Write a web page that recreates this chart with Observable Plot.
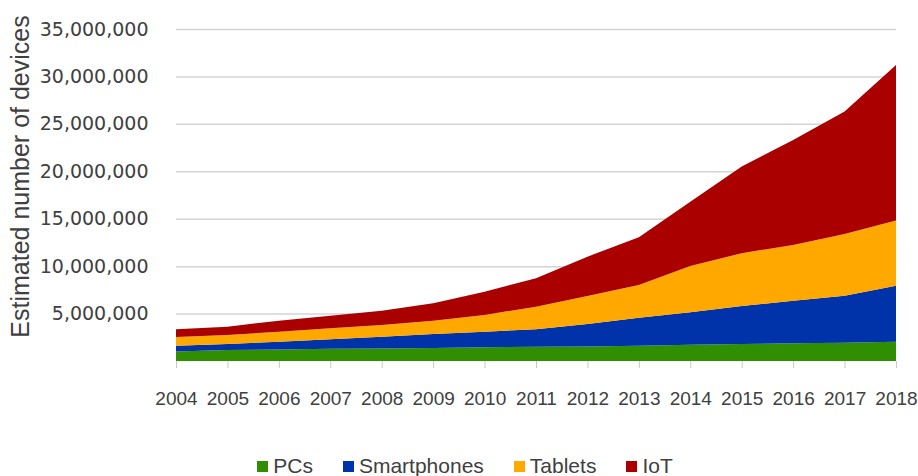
<!DOCTYPE html>
<html><head><meta charset="utf-8">
<script src="https://cdn.jsdelivr.net/npm/d3@7"></script>
<script src="https://cdn.jsdelivr.net/npm/@observablehq/plot@0.6"></script>
<style>
body{margin:0;background:#fff;font-family:"Liberation Sans",Arial,sans-serif;}
#chart{position:relative;width:918px;height:476px;overflow:hidden;}
#legend{position:absolute;left:6px;width:918px;top:452px;display:flex;justify-content:center;gap:30px;font-size:21px;color:#404040;line-height:28px;}
.item{display:flex;align-items:center;}
.sw{width:11px;height:11px;margin-right:5px;}
</style></head><body><div id="chart"></div>
<script>
const years = [2004,2005,2006,2007,2008,2009,2010,2011,2012,2013,2014,2015,2016,2017,2018];
const pcs         = [1000000,1150000,1220000,1280000,1330000,1380000,1450000,1500000,1530000,1620000,1720000,1800000,1870000,1930000,2040000];
const smartphones = [600000,640000,820000,1010000,1230000,1470000,1640000,1840000,2370000,2950000,3410000,4000000,4490000,4960000,5900000];
const tablets     = [920000,950000,1050000,1160000,1240000,1400000,1760000,2390000,2960000,3450000,4890000,5560000,5880000,6510000,6860000];
const iot         = [840000,880000,1160000,1330000,1510000,1840000,2460000,2990000,4140000,5030000,6780000,9140000,11060000,12900000,16400000];
const seriesNames = ["PCs","Smartphones","Tablets","IoT"];
const seriesColors = ["#2f8f00","#0033aa","#ffa800","#aa0000"];
const yTicks = [5000000,10000000,15000000,20000000,25000000,30000000,35000000];
const yTitle = "Estimated number of devices";

const seriesValues = [pcs, smartphones, tablets, iot];
const table = [];
seriesNames.forEach((name, i) => {
  years.forEach((yr, j) => table.push({year: yr, series: name, value: seriesValues[i][j]}));
});

const plot = Plot.plot({
  width: 918, height: 430,
  marginLeft: 176, marginRight: 22, marginTop: 29, marginBottom: 69,
  style: {fontFamily: "Liberation Sans, Arial, sans-serif", color: "#404040", background: "#fff"},
  x: {domain: [2004, 2018]},
  y: {domain: [0, 35000000]},
  color: {domain: seriesNames, range: seriesColors},
  marks: [
    Plot.gridY(yTicks, {stroke: "#d4d4d4", strokeOpacity: 1, strokeWidth: 1.5}),
    Plot.areaY(table, {x: "year", y: "value", fill: "series", z: "series", order: seriesNames}),
    Plot.axisY(yTicks, {tickSize: 0, tickPadding: 28, tickFormat: d3.format(","), fontSize: 19, fontFamily: "DejaVu Sans", label: null, fill: "#404040"}),
    Plot.axisX(years, {tickSize: 7, tickPadding: 23, stroke: "#c8c8c8", fill: "#404040", tickFormat: d => String(d), fontSize: 19, label: null}),
    Plot.text([yTitle], {text: d => d, frameAnchor: "left", textAnchor: "middle", rotate: -90, dx: -156, dy: -19, fontSize: 25, fill: "#404040"})
  ]
});
const chart = document.getElementById("chart");
chart.appendChild(plot);
const legend = document.createElement("div");
legend.id = "legend";
seriesNames.forEach((name, i) => {
  const it = document.createElement("div");
  it.className = "item";
  const sw = document.createElement("span");
  sw.className = "sw";
  sw.style.background = seriesColors[i];
  it.appendChild(sw);
  it.appendChild(document.createTextNode(name));
  legend.appendChild(it);
});
chart.appendChild(legend);
</script>
</body></html>
